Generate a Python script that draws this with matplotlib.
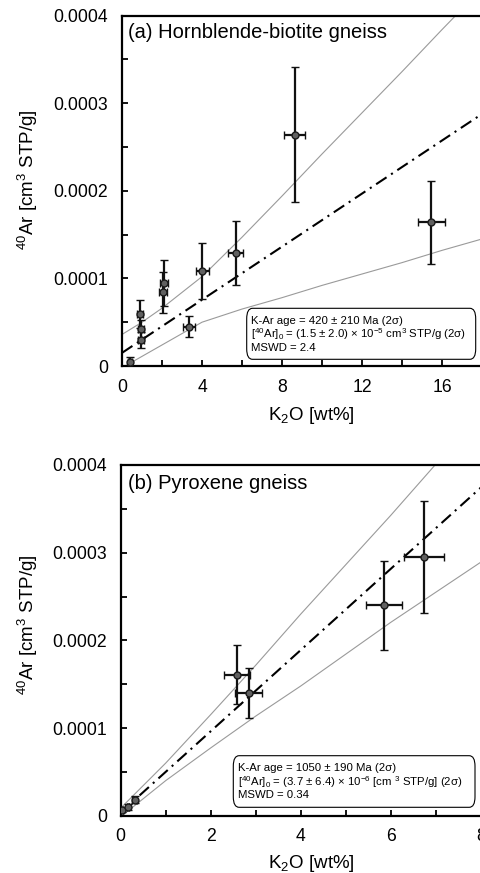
import matplotlib
matplotlib.use("Agg")
import matplotlib.pyplot as plt
from matplotlib.patches import FancyBboxPatch
from matplotlib.ticker import MultipleLocator, FixedLocator

plt.rcParams['font.family'] = ['Liberation Sans', 'DejaVu Sans']
plt.rcParams['mathtext.fontset'] = 'custom'
plt.rcParams['mathtext.rm'] = 'Liberation Sans'
plt.rcParams['mathtext.it'] = 'Liberation Sans:italic'
plt.rcParams['mathtext.bf'] = 'Liberation Sans:bold'

# ---------------- data (panel a: hornblende-biotite gneiss) ----------------
k2o_a = [0.40, 0.93, 0.93, 0.90, 2.07, 2.12, 3.35, 4.02, 5.68, 8.63, 15.47]
k2o_err_a = [0.10, 0.15, 0.15, 0.15, 0.20, 0.20, 0.30, 0.33, 0.37, 0.52, 0.68]
ar_a = [0.04e-4, 0.30e-4, 0.42e-4, 0.59e-4, 0.84e-4, 0.95e-4, 0.45e-4, 1.08e-4, 1.29e-4, 2.64e-4, 1.64e-4]
ar_err_a = [0.065e-4, 0.09e-4, 0.10e-4, 0.16e-4, 0.23e-4, 0.26e-4, 0.12e-4, 0.32e-4, 0.37e-4, 0.77e-4, 0.47e-4]

fit_x_a = [0, 20]
fit_y_a = [0.15e-4, 3.18e-4]
env_x_a = [0, 1, 2, 4, 6, 8, 10, 12, 14, 16, 18, 20]
env_up_a = [0.36e-4, 0.50e-4, 0.66e-4, 1.02e-4, 1.47e-4, 1.94e-4, 2.42e-4, 2.89e-4, 3.36e-4, 3.84e-4, 4.31e-4, 4.78e-4]
env_lo_a = [-0.02e-4, 0.11e-4, 0.24e-4, 0.50e-4, 0.65e-4, 0.78e-4, 0.92e-4, 1.05e-4, 1.18e-4, 1.32e-4, 1.45e-4, 1.58e-4]

title_a = "(a) Hornblende-biotite gneiss"
box_a = ["K-Ar age = 420 ± 210 Ma (2σ)",
         "[$^{40}$Ar]$_0$ = (1.5 ± 2.0) × 10$^{-5}$ cm$^3$ STP/g (2σ)",
         "MSWD = 2.4"]

# ---------------- data (panel b: pyroxene gneiss) ----------------
k2o_b = [0.03, 0.16, 0.31, 2.58, 2.84, 5.84, 6.74]
k2o_err_b = [0.02, 0.03, 0.05, 0.29, 0.29, 0.40, 0.45]
ar_b = [0.06e-4, 0.10e-4, 0.18e-4, 1.61e-4, 1.40e-4, 2.40e-4, 2.95e-4]
ar_err_b = [0.02e-4, 0.03e-4, 0.04e-4, 0.34e-4, 0.29e-4, 0.505e-4, 0.64e-4]

fit_x_b = [0, 8]
fit_y_b = [0.037e-4, 3.741e-4]
env_x_b = [0, 1, 2, 3, 4, 5, 6, 7, 8]
env_up_b = [0.087e-4, 0.60e-4, 1.153e-4, 1.716e-4, 2.299e-4, 2.862e-4, 3.425e-4, 4.008e-4, 4.591e-4]
env_lo_b = [-0.013e-4, 0.40e-4, 0.773e-4, 1.136e-4, 1.479e-4, 1.842e-4, 2.205e-4, 2.548e-4, 2.891e-4]

title_b = "(b) Pyroxene gneiss"
box_b = ["K-Ar age = 1050 ± 190 Ma (2σ)",
         "[$^{40}$Ar]$_0$ = (3.7 ± 6.4) × 10$^{-6}$ [cm $^3$ STP/g] (2σ)",
         "MSWD = 0.34"]

ytick_vals = [0, 0.0001, 0.0002, 0.0003, 0.0004]
ytick_labels = ["0", "0.0001", "0.0002", "0.0003", "0.0004"]
xlabel = "K$_2$O [wt%]"
ylabel = "$^{40}$Ar [cm$^3$ STP/g]"

# ---------------- figure ----------------
W, H = 480, 873
fig = plt.figure(figsize=(W / 100, H / 100), dpi=100)


def fx(px):
    return px / W


def fy(py):
    return 1 - py / H


def make_panel(left, top, right, bottom, xmax, xmajor, xminor,
               kx, kxe, ary, arye, fit_x, fit_y, ex, eu, el, title, lines,
               box, title_y, text_x, text_y0, dy, xlab_y, ylab_y):
    ax = fig.add_axes([fx(left), fy(bottom), fx(right - left), (bottom - top) / H])
    ax.set_xlim(0, xmax)
    ax.set_ylim(0, 0.0004)
    ax.plot(ex, eu, color='#9a9a9a', lw=0.8, zorder=1)
    ax.plot(ex, el, color='#9a9a9a', lw=0.8, zorder=1)
    ax.plot(fit_x, fit_y, color='black', lw=1.5, linestyle=(0, (6, 2.6, 1, 2.6)), zorder=2)
    ax.errorbar(kx, ary, xerr=kxe, yerr=arye, fmt='o', ms=5,
                mfc='#606060', mec='#1a1a1a', mew=1.0, ecolor='#111111',
                elinewidth=1.6, capsize=2.8, capthick=1.5, zorder=3)
    ax.xaxis.set_major_locator(MultipleLocator(xmajor))
    ax.xaxis.set_minor_locator(MultipleLocator(xminor))
    ax.yaxis.set_major_locator(FixedLocator(ytick_vals))
    ax.set_yticklabels(ytick_labels)
    ax.yaxis.set_minor_locator(MultipleLocator(0.00005))
    ax.tick_params(which='both', direction='in', width=1.3, labelsize=12.7, length=4.5)
    ax.tick_params(axis='y', pad=10)
    ax.tick_params(axis='x', pad=9)
    for s in ['left', 'bottom', 'top']:
        ax.spines[s].set_linewidth(1.6)
    ax.spines['right'].set_visible(False)
    fig.text(fx(128.3), fy(title_y), title, fontsize=14.5, va='center', ha='left')
    bx0, by0, bx1, by1 = box
    patch = FancyBboxPatch((fx(bx0), fy(by1)), fx(bx1 - bx0), (by1 - by0) / H,
                           boxstyle="round,pad=0,rounding_size=0.012",
                           transform=fig.transFigure, facecolor='white',
                           edgecolor='black', lw=0.8, zorder=5)
    fig.add_artist(patch)
    for i, t in enumerate(lines):
        fig.text(fx(text_x), fy(text_y0 + i * dy), t, fontsize=8.2,
                 va='center', ha='left', zorder=6)
    fig.text(fx(311.7), fy(xlab_y), xlabel, fontsize=13.5, ha='center', va='center')
    fig.text(fx(28), fy(ylab_y), ylabel, fontsize=13.5, ha='center', va='center',
             rotation=90)
    return ax


make_panel(122, 15.6, 482, 366, 18, 4, 2,
           k2o_a, k2o_err_a, ar_a, ar_err_a, fit_x_a, fit_y_a,
           env_x_a, env_up_a, env_lo_a, title_a, box_a,
           (246.7, 308.3, 475.7, 359.3), 33, 250.7, 320.7, 13.8, 415, 180)

make_panel(120.7, 465, 480.7, 815.7, 8, 2, 1,
           k2o_b, k2o_err_b, ar_b, ar_err_b, fit_x_b, fit_y_b,
           env_x_b, env_up_b, env_lo_b, title_b, box_b,
           (233.3, 755.7, 475, 807.3), 483.3, 237.7, 768.3, 13.4, 863.3, 625)

fig.savefig("out.png", dpi=100)
